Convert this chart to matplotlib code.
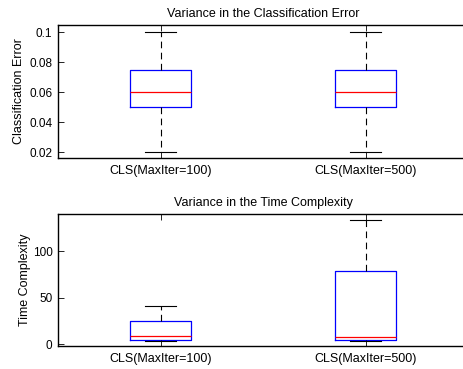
import matplotlib
matplotlib.use("Agg")
import matplotlib.pyplot as plt
from matplotlib.ticker import FormatStrFormatter

plt.rcParams["font.family"] = ["Liberation Sans", "DejaVu Sans"]

labels = ["CLS(MaxIter=100)", "CLS(MaxIter=500)"]

# classification error: whisker low, q1, median, q3, whisker high
err_low = [0.02, 0.02]
err_q1 = [0.05, 0.05]
err_med = [0.06, 0.06]
err_q3 = [0.075, 0.075]
err_high = [0.1, 0.1]

# time complexity
time_low = [3.5, 3.5]
time_q1 = [4.3, 4.3]
time_med = [8.6, 7.5]
time_q3 = [24.7, 78.5]
time_high = [41, 134]


def make_stats(lo, q1, med, q3, hi):
    return [dict(whislo=lo[i], q1=q1[i], med=med[i], q3=q3[i], whishi=hi[i],
                 fliers=[], label=labels[i]) for i in range(len(labels))]


def draw(ax, stats, title, ylabel, lpad):
    ax.bxp(stats, positions=[1, 2], widths=0.3, showfliers=False,
           boxprops=dict(color="blue", linewidth=0.9),
           medianprops=dict(color="red", linewidth=0.9),
           whiskerprops=dict(color="black", linewidth=0.8, linestyle=(0, (6, 4))),
           capprops=dict(color="black", linewidth=0.8),
           capwidths=0.15)
    ax.set_xlim(0.5, 2.5)
    ax.set_title(title, fontsize=9, pad=6)
    ax.set_ylabel(ylabel, fontsize=9, labelpad=lpad)
    ax.tick_params(direction="in", top=True, right=False, length=4, width=0.6)
    ax.tick_params(axis="x", pad=5, labelsize=9)
    ax.tick_params(axis="y", pad=4, labelsize=8.5)
    for s in ax.spines.values():
        s.set_linewidth(1.0)


fig = plt.figure(figsize=(4.63, 3.69), dpi=100)
ax1 = fig.add_axes([0.1253, 0.5718, 0.8855, 0.3604])
ax2 = fig.add_axes([0.1253, 0.0623, 0.8855, 0.3577])

draw(ax1, make_stats(err_low, err_q1, err_med, err_q3, err_high),
     "Variance in the Classification Error", "Classification Error", 3)
ax1.set_ylim(0.016, 0.1047)
ax1.set_yticks([0.02, 0.04, 0.06, 0.08, 0.1])
ax1.yaxis.set_major_formatter(FormatStrFormatter("%g"))

draw(ax2, make_stats(time_low, time_q1, time_med, time_q3, time_high),
     "Variance in the Time Complexity", "Time Complexity", 1.5)
ax2.set_ylim(-2, 140)
ax2.set_yticks([0, 50, 100])

fig.savefig("out.png", dpi=100)
